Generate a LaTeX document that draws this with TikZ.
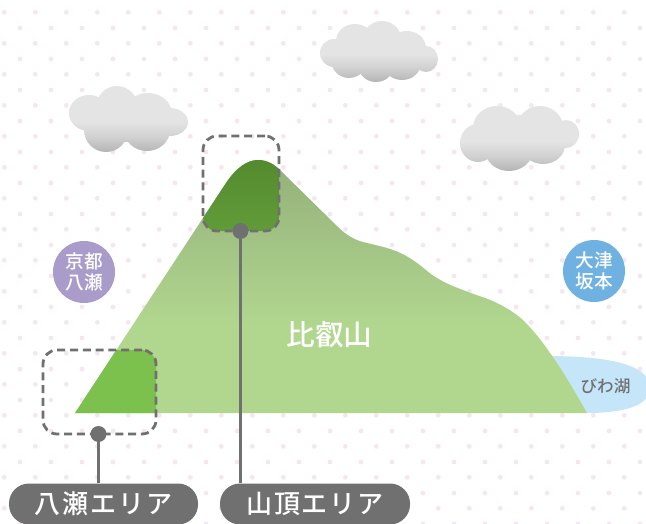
\documentclass[tikz,border=0pt]{standalone}
\usepackage{fontspec}
\newfontfamily\cjk{Noto Sans CJK JP Medium}
\newfontfamily\cjkwide[LetterSpace=7]{Noto Sans CJK JP Medium}
\usetikzlibrary{calc}
\definecolor{dotc}{HTML}{F4E7F2}
\definecolor{mtop}{HTML}{93B07A}
\definecolor{mlow}{HTML}{B1D78F}
\definecolor{ptop}{HTML}{4F842B}
\definecolor{plow}{HTML}{619C39}
\definecolor{foot}{HTML}{7CC04E}
\definecolor{lake}{HTML}{C5E6F9}
\definecolor{greyc}{HTML}{707070}
\definecolor{kyoto}{HTML}{A99CCB}
\definecolor{otsu}{HTML}{6FB1E0}
\definecolor{cl}{HTML}{E4E4E4}
\definecolor{cm}{HTML}{D0D0D0}
\definecolor{cd}{HTML}{B4B4B4}
\pgfdeclareverticalshading{cloudshade}{100bp}{color(0bp)=(cd); color(25bp)=(cd); color(36bp)=(cm); color(48bp)=(cl); color(100bp)=(cl)}
\pgfdeclareverticalshading{mountshade}{100bp}{color(0bp)=(mlow); color(42bp)=(mlow); color(75bp)=(mtop); color(100bp)=(mtop)}
\pgfdeclareverticalshading{peakshade}{100bp}{color(0bp)=(plow); color(25bp)=(plow); color(75bp)=(ptop); color(100bp)=(ptop)}
\newcommand{\mountainpath}{(75,413) -- (226,183) .. controls (236,168) and (247,160) .. (258,160) .. controls (268,160) and (275,165) .. (281,171) -- (338,227) .. controls (346,235) and (355,240) .. (363,242) .. controls (375,245) and (385,247) .. (393,250) .. controls (402,253) and (410,258) .. (417,263) .. controls (424,268) and (430,274) .. (437,278) .. controls (445,283) and (455,287) .. (463,290) .. controls (475,295) and (487,298) .. (497,303) .. controls (507,308) and (515,313) .. (523,320) .. controls (533,330) and (542,341) .. (550,353) .. controls (563,371) and (575,392) .. (587,413) -- cycle}
\tikzset{
  x=0.75pt,y=-0.75pt,
  bgdot/.style={fill=dotc,draw=none},
  cloudfill/.style={shading=cloudshade,draw=none},
  dashbox/.style={draw=greyc,line width=2.1pt,rounded corners=10.5pt,dash pattern=on 6pt off 3.6pt,inner sep=0pt},
  pin/.style={circle,fill=greyc,minimum size=12pt,inner sep=0pt},
  pinline/.style={draw=greyc,line width=2.1pt},
  pill/.style={fill=greyc,text=white,rounded corners=15pt,minimum height=30.75pt,inner sep=0pt,font=\cjkwide\fontsize{19.5pt}{22pt}\selectfont},
  area/.style={circle,minimum size=46.5pt,inner sep=0pt,text=white,align=center,font=\cjk\fontsize{14pt}{15.5pt}\selectfont},
}
\begin{document}
\begin{tikzpicture}
\useasboundingbox (0,0) rectangle (646,524);
\clip (0,0) rectangle (646,524);
\fill[white] (0,0) rectangle (646,524);
% dot pattern
\foreach \i in {0,...,20}{\foreach \j in {0,...,16}{
  \fill[bgdot] (4.3+31*\i,12.3+31*\j) circle[radius=2.4];
  \fill[bgdot] (20+31*\i,28+31*\j) circle[radius=2.4];
}}
% lake
\fill[lake] (545,356) .. controls (600,356) and (650,362) .. (650,388) .. controls (650,410) and (610,413) .. (587,413) -- cycle;
% mountain
\shade[shading=mountshade] \mountainpath;
% highlights
\begin{scope}
\clip \mountainpath;
\fill[foot] (43,350) [rounded corners=10.5pt] -- (156,350) -- (156,434) -- (43,434) -- cycle;
\shade[shading=peakshade,rounded corners=10.5pt] (203,136) -- (279,136) -- (279,231) -- (203,231) -- cycle;
\end{scope}
% clouds
\shade[cloudfill]
 (89,113) ellipse[x radius=20,y radius=18]
 (117,108) ellipse[x radius=21,y radius=22]
 (148,114) ellipse[x radius=24,y radius=21]
 (170,122) ellipse[x radius=18,y radius=14]
 (106,130) ellipse[x radius=22,y radius=22]
 (147,130) ellipse[x radius=23,y radius=21]
 (125,120) ellipse[x radius=30,y radius=22];
\shade[cloudfill]
 (334,53) ellipse[x radius=14,y radius=14]
 (355,41) ellipse[x radius=19,y radius=17]
 (382,39) ellipse[x radius=19,y radius=18]
 (407,48) ellipse[x radius=19,y radius=17]
 (426,59) ellipse[x radius=12,y radius=13]
 (349,60) ellipse[x radius=18,y radius=18]
 (376,65) ellipse[x radius=18,y radius=17]
 (402,63) ellipse[x radius=19,y radius=17]
 (380,50) ellipse[x radius=35,y radius=20];
\shade[cloudfill]
 (478,143) ellipse[x radius=18,y radius=19]
 (497,128) ellipse[x radius=24,y radius=22]
 (540,130) ellipse[x radius=24,y radius=24]
 (566,134) ellipse[x radius=13,y radius=14]
 (509,150) ellipse[x radius=24,y radius=21]
 (543,145) ellipse[x radius=22,y radius=19]
 (520,135) ellipse[x radius=30,y radius=20];
% area badges
\node[area,fill=kyoto] (kyoto) at (84,272) {京都\\八瀬};
\node[area,fill=otsu] (otsu) at (594,271) {大津\\坂本};
% labels
\node[text=white,font=\cjk\fontsize{21.5pt}{24pt}\selectfont,inner sep=0pt] (hiei) at (329.5,335) {比叡山};
\node[text=greyc,font=\cjk\fontsize{12.5pt}{14pt}\selectfont,inner sep=0pt] (biwa) at (605.5,386) {びわ湖};
% dashed boxes
\node[dashbox,minimum width=84.75pt,minimum height=63pt] (boxa) at (99.5,392) {};
\node[dashbox,minimum width=57pt,minimum height=71.25pt] (boxb) at (241,183.5) {};
% pills
\node[pill,minimum width=141.75pt] (pilla) at (103.5,504) {八瀬エリア};
\node[pill,minimum width=142.5pt] (pillb) at (315,504) {山頂エリア};
% pins
\node[pin] (pina) at (98.5,434) {};
\node[pin] (pinb) at (240.5,231) {};
\draw[pinline] (pina) -- (pina |- pilla.north);
\draw[pinline] (pinb) -- (pinb |- pillb.north);
\end{tikzpicture}
\end{document}
